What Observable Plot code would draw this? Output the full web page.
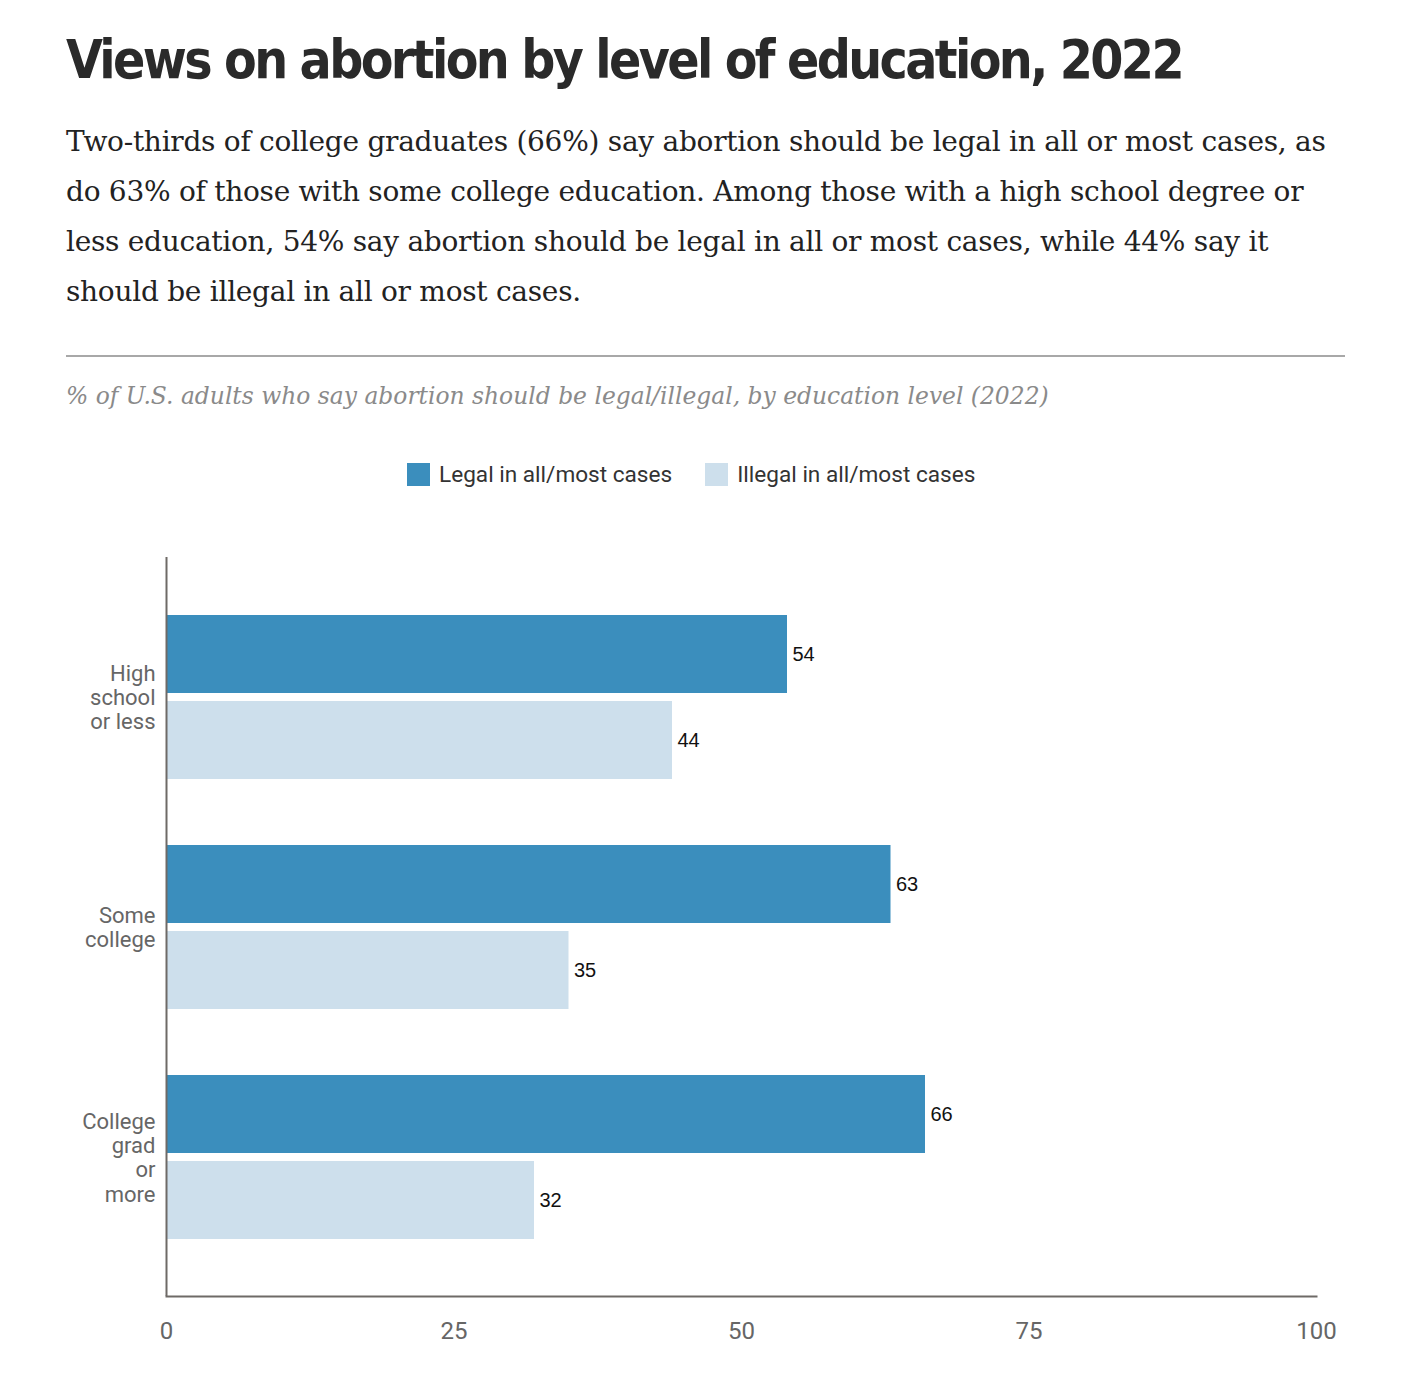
<!DOCTYPE html>
<html>
<head>
<meta charset="utf-8">
<script src="https://cdn.jsdelivr.net/npm/d3@7"></script>
<script src="https://cdn.jsdelivr.net/npm/@observablehq/plot@0.6"></script>
<style>
  html, body { margin: 0; padding: 0; background: #fff; }
  body { width: 1405px; height: 1380px; position: relative; overflow: hidden; }
  .title { position: absolute; left: 66px; top: 33px; font-family: "DejaVu Sans Condensed", "DejaVu Sans", sans-serif; font-stretch: condensed; font-weight: bold; font-size: 53px; letter-spacing: -2.6px; line-height: 1; color: #2a2a2a; white-space: nowrap; }
  .subtitle { position: absolute; left: 66px; top: 117px; font-family: "DejaVu Serif", serif; font-size: 28px; letter-spacing: -0.27px; line-height: 50px; color: #222; white-space: nowrap; }
  .divider { position: absolute; left: 66px; top: 355px; width: 1279px; height: 2px; background: #a8a8a8; }
  .caption { position: absolute; left: 66px; top: 385px; font-family: "DejaVu Serif", serif; font-style: italic; font-size: 23.4px; line-height: 1; color: #8a8a8a; white-space: nowrap; }
  .legend { position: absolute; left: 407px; top: 461px; display: flex; align-items: center; font-family: Roboto, sans-serif; font-size: 22.6px; color: #333; }
  .legend .sw { width: 23px; height: 23px; margin-right: 9px; }
  .legend .item { display: flex; align-items: center; margin-right: 33px; }
  #chart { position: absolute; left: 0; top: 520px; }
</style>
</head>
<body>
<div class="title">Views on abortion by level of education, 2022</div>
<div class="subtitle" id="sub">Two-thirds of college graduates (66%) say abortion should be legal in all or most cases, as<br>do 63% of those with some college education. Among those with a high school degree or<br>less education, 54% say abortion should be legal in all or most cases, while 44% say it<br>should be illegal in all or most cases.</div>
<div class="divider"></div>
<div class="caption">% of U.S. adults who say abortion should be legal/illegal, by education level (2022)</div>
<div class="legend" id="legend"></div>
<div id="chart"></div>
<script>
const categories = ["High school or less", "Some college", "College grad or more"];
const tickLabels = ["High\nschool\nor less", "Some\ncollege", "College\ngrad\nor\nmore"];
const series = ["Legal in all/most cases", "Illegal in all/most cases"];
const legalValues = [54, 63, 66];
const illegalValues = [44, 35, 32];
const xTicks = [0, 25, 50, 75, 100];
const colors = ["#3b8ebd", "#cddfec"];

const legalData = categories.map((c, i) => ({edu: c, series: series[0], value: legalValues[i]}));
const illegalData = categories.map((c, i) => ({edu: c, series: series[1], value: illegalValues[i]}));

const legend = document.getElementById("legend");
series.forEach((s, i) => {
  const item = document.createElement("div");
  item.className = "item";
  const sw = document.createElement("div");
  sw.className = "sw";
  sw.style.background = colors[i];
  const t = document.createElement("span");
  t.textContent = s;
  item.appendChild(sw);
  item.appendChild(t);
  legend.appendChild(item);
});

const chart = Plot.plot({
  width: 1405,
  height: 840,
  marginLeft: 166,
  marginRight: 89,
  marginTop: 37,
  marginBottom: 64,
  style: {fontFamily: "Roboto, sans-serif", color: "#6e6a67", background: "white", overflow: "visible"},
  x: {domain: [0, 100], label: null},
  y: {domain: categories, paddingInner: 0.287, paddingOuter: 0.25, label: null},
  marks: [
    Plot.barX(legalData, {x: "value", y: "edu", fill: colors[0], insetBottom: 86}),
    Plot.barX(illegalData, {x: "value", y: "edu", fill: colors[1], insetTop: 86}),
    Plot.text(legalData, {x: "value", y: "edu", text: d => String(d.value), dx: 5, dy: -43, textAnchor: "start", fill: "#111", fontSize: 20, fontFamily: "Liberation Sans, sans-serif"}),
    Plot.text(illegalData, {x: "value", y: "edu", text: d => String(d.value), dx: 5, dy: 43, textAnchor: "start", fill: "#111", fontSize: 20, fontFamily: "Liberation Sans, sans-serif"}),
    Plot.axisX({ticks: xTicks, tickSize: 0, tickPadding: 25, fontSize: 24, fill: "#666", label: null}),
    Plot.axisY({tickSize: 0, tickPadding: 11, fontSize: 22, lineHeight: 1.1, fill: "#666", label: null, tickFormat: d => tickLabels[categories.indexOf(d)]}),
    Plot.ruleX([0], {stroke: "#6e6a67", strokeWidth: 2}),
    Plot.frame({anchor: "bottom", stroke: "#6e6a67", strokeWidth: 2})
  ]
});
document.getElementById("chart").appendChild(chart);
</script>
</body>
</html>
